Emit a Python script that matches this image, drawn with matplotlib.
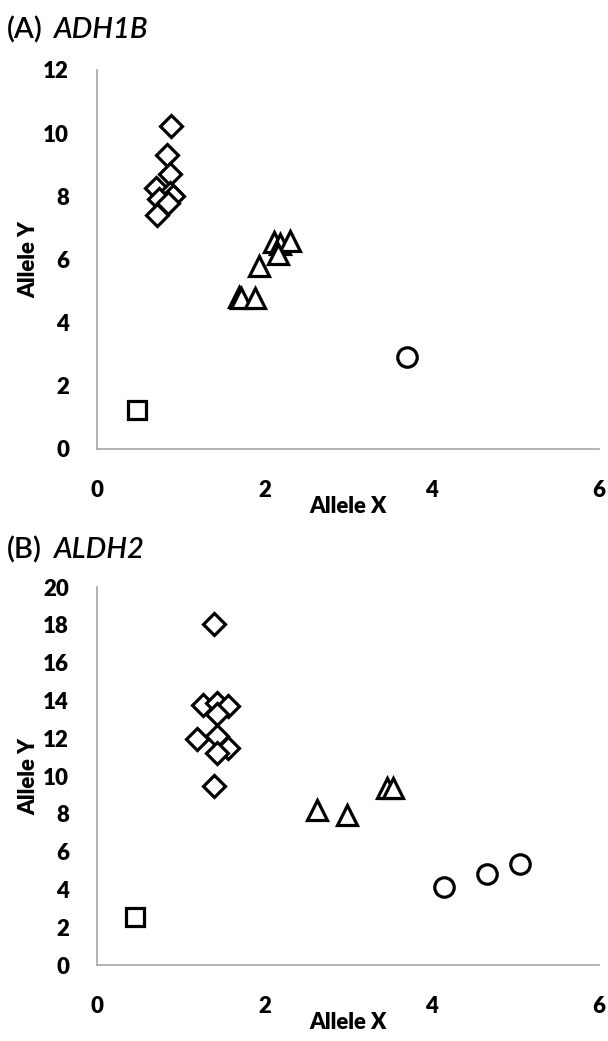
import matplotlib
matplotlib.use("Agg")
import matplotlib.pyplot as plt

# Panel A: ADH1B
a_square_x = [0.48]
a_square_y = [1.23]
a_circle_x = [3.70]
a_circle_y = [2.90]
a_diamond_x = [0.89, 0.84, 0.875, 0.71, 0.875, 0.91, 0.74, 0.85, 0.72]
a_diamond_y = [10.23, 9.30, 8.70, 8.27, 8.10, 8.00, 7.90, 7.80, 7.42]
a_tri_x = [2.11, 2.19, 2.31, 2.16, 1.94, 1.70, 1.72, 1.89]
a_tri_y = [6.54, 6.50, 6.57, 6.16, 5.78, 4.80, 4.78, 4.77]

# Panel B: ALDH2
b_square_x = [0.46]
b_square_y = [2.54]
b_circle_x = [4.15, 4.66, 5.06]
b_circle_y = [4.13, 4.81, 5.34]
b_diamond_x = [1.40, 1.27, 1.43, 1.57, 1.44, 1.20, 1.44, 1.56, 1.43, 1.40]
b_diamond_y = [18.04, 13.75, 13.86, 13.70, 13.30, 11.96, 12.10, 11.50, 11.20, 9.45]
b_tri_x = [2.63, 2.99, 3.47, 3.54]
b_tri_y = [8.20, 7.94, 9.37, 9.37]

x_ticks = [0, 2, 4, 6]
a_y_ticks = [0, 2, 4, 6, 8, 10, 12]
b_y_ticks = [0, 2, 4, 6, 8, 10, 12, 14, 16, 18, 20]

FONT = "Lato"
plt.rcParams['font.family'] = [FONT, 'DejaVu Sans']

fig = plt.figure(figsize=(6.08, 10.41), dpi=100)
axA = fig.add_axes([0.1595, 0.5687, 0.8257, 0.3641])
axB = fig.add_axes([0.1595, 0.0730, 0.8257, 0.3631])

mk = dict(linestyle='none', markerfacecolor='white', markeredgecolor='black',
          markeredgewidth=2.3)

def style(ax, yticks):
    ax.set_xlim(0, 6)
    ax.set_ylim(yticks[0], yticks[-1])
    ax.set_xticks(x_ticks)
    ax.set_yticks(yticks)
    for s in ['top', 'right']:
        ax.spines[s].set_visible(False)
    for s in ['left', 'bottom']:
        ax.spines[s].set_color('#a6a6a6')
        ax.spines[s].set_linewidth(1.2)
    ax.tick_params(axis='x', length=0, labelsize=16, pad=22)
    ax.tick_params(axis='y', length=0, labelsize=16, pad=20)
    for lab in ax.get_xticklabels() + ax.get_yticklabels():
        lab.set_fontweight('heavy')
    ax.set_xlabel('Allele X', fontsize=16, fontweight='heavy', labelpad=-3)
    ax.set_ylabel('Allele Y', fontsize=16, fontweight='heavy', labelpad=3)

for ax, sq, ci, di, tr, yt in [
    (axA, (a_square_x, a_square_y), (a_circle_x, a_circle_y),
     (a_diamond_x, a_diamond_y), (a_tri_x, a_tri_y), a_y_ticks),
    (axB, (b_square_x, b_square_y), (b_circle_x, b_circle_y),
     (b_diamond_x, b_diamond_y), (b_tri_x, b_tri_y), b_y_ticks)]:
    ax.plot(*sq, marker='s', markersize=13, **mk)
    ax.plot(*ci, marker='o', markersize=14, **mk)
    ax.plot(*di, marker='D', markersize=11, **mk)
    ax.plot(*tr, marker='^', markersize=14, **mk)
    style(ax, yt)

fig.text(0.012, 0.971, '(A)', fontsize=21, fontweight='semibold', va='center', ha='left')
fig.text(0.088, 0.971, 'ADH1B', fontsize=21, fontweight='semibold', style='italic', va='center', ha='left')
fig.text(0.012, 0.4717, '(B)', fontsize=21, fontweight='semibold', va='center', ha='left')
fig.text(0.088, 0.4717, 'ALDH2', fontsize=21, fontweight='semibold', style='italic', va='center', ha='left')

fig.savefig('out.png', dpi=100)
